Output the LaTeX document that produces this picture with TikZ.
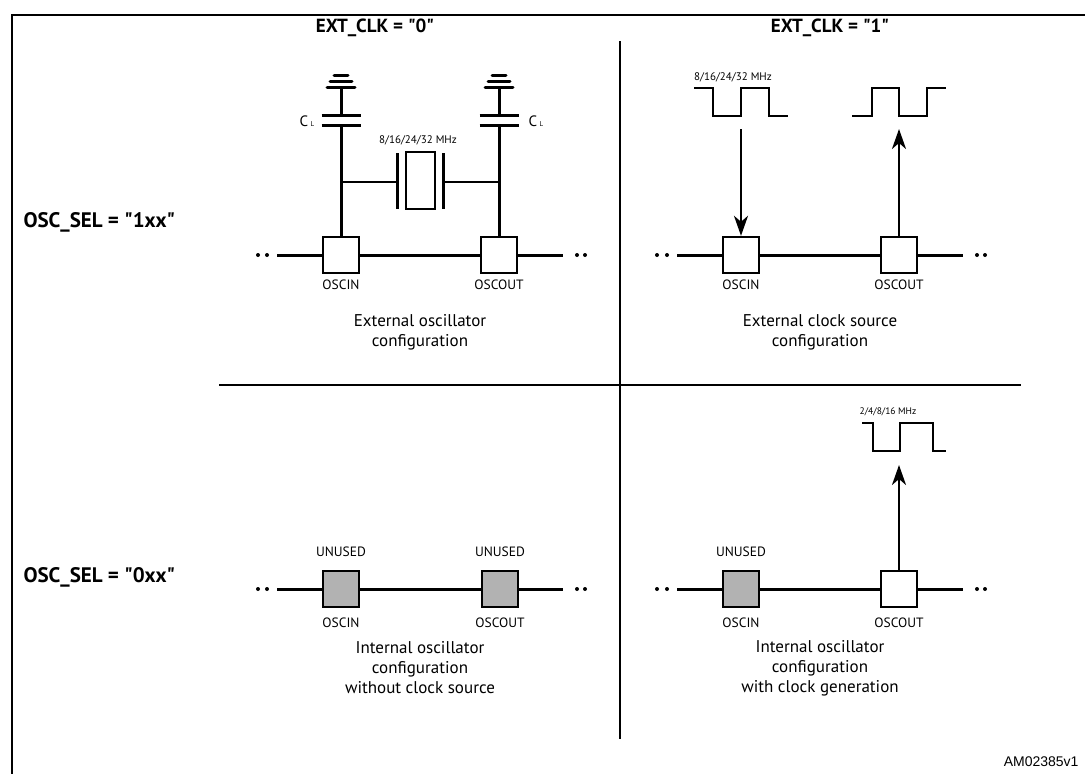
\documentclass[tikz,border=0pt]{standalone}
\usepackage{fontspec}
\setmainfont{PT Sans}
\newfontfamily\hdrfont{PT Sans}[Ligatures=TeXOff]
\newfontfamily\amfont{Liberation Sans}
\usetikzlibrary{arrows.meta}
\begin{document}
\begin{tikzpicture}[x=1pt,y=-1pt,
  pin/.style={draw,line width=2.4pt,minimum size=36pt,inner sep=0pt,fill=white},
  unusedpin/.style={pin,fill=black!30},
  wire/.style={line width=3pt},
  thinwire/.style={line width=2.2pt},
  gnd/.style={line width=3pt,line cap=round},
  busdot/.style={circle,fill,inner sep=0pt,minimum size=4pt},
  pinlbl/.style={font=\fontsize{13.5}{15}\selectfont},
  captxt/.style={font=\fontsize{17}{20}\selectfont,align=center},
  hdr/.style={font=\hdrfont\fontsize{19}{22}\selectfont\bfseries},
  selhdr/.style={font=\hdrfont\fontsize{21}{24}\selectfont\bfseries},
  freq/.style={font=\fontsize{11}{13}\selectfont},
  wave/.style={line width=2.4pt},
  arr/.style={line width=2.4pt,-{Stealth[length=20pt,width=14pt,inset=6pt]}}
]
\useasboundingbox (0,0) rectangle (1085,774);
% frame and dividers
\draw[line width=2.5pt] (12,774) -- (12,15) -- (1085,15);
\draw[line width=2pt] (620,41) -- (620,739);
\draw[line width=2pt] (219,385) -- (1021,385);
% headers
\node[hdr] (h0) at (375,28) {EXT\_CLK = "0"};
\node[hdr] (h1) at (830,28) {EXT\_CLK = "1"};
\node[selhdr,anchor=west] (s1) at (20,222) {OSC\_SEL = "1xx"};
\node[selhdr,anchor=west] (s0) at (20,577) {OSC\_SEL = "0xx"};
\node[font=\amfont\fontsize{14}{16}\selectfont,anchor=east] (am) at (1082,762) {AM02385v1};

% ===== top-left: external oscillator =====
\node[pin] (tlin) at (341,255) {};
\node[pin] (tlout) at (499,255) {};
\node[pinlbl] (tlinl) at (341,285) {OSCIN};
\node[pinlbl] (tloutl) at (499,285) {OSCOUT};
\coordinate (tlL) at (277,255); \coordinate (tlR) at (563,255);
\node[busdot] (tld1) at (258,255) {}; \node[busdot] (tld2) at (267,255) {};
\node[busdot] (tld3) at (577,255) {}; \node[busdot] (tld4) at (585,255) {};
\draw[wire] (tlL) -- (tlin.west) (tlin.east) -- (tlout.west) (tlout.east) -- (tlR);
% capacitors and grounds
\foreach \cx in {341,499} {
  \draw[wire] (\cx,236) -- (\cx,125);
  \draw[wire] (\cx-19.5,125) -- (\cx+19.5,125) (\cx-19.5,115) -- (\cx+19.5,115);
  \draw[wire] (\cx,115) -- (\cx,87);
  \draw[gnd] (\cx-14,87) -- (\cx+14,87) (\cx-11,81) -- (\cx+11,81) (\cx-7,75) -- (\cx+7,75);
}
\node[font=\fontsize{15}{16}\selectfont] (cl1) at (307,121) {C\,{\fontsize{7}{7}\selectfont L}};
\node[font=\fontsize{15}{16}\selectfont] (cl2) at (536,121) {C\,{\fontsize{7}{7}\selectfont L}};
% crystal
\draw[thinwire] (341,182) -- (397,182);
\draw[wire] (397,153) -- (397,209);
\draw[thinwire] (406,152) rectangle (435,209);
\draw[wire] (443,153) -- (443,209);
\draw[thinwire] (443,182) -- (499,182);
\node[freq] (f1) at (418,140) {8/16/24/32 MHz};
\node[captxt] (c1) at (420,332) {External oscillator\\configuration};

% ===== top-right: external clock source =====
\node[pin] (trin) at (741,255) {};
\node[pin] (trout) at (899,255) {};
\node[pinlbl] (trinl) at (741,285) {OSCIN};
\node[pinlbl] (troutl) at (899,285) {OSCOUT};
\coordinate (trL) at (677,255); \coordinate (trR) at (963,255);
\node[busdot] (trd1) at (657,255) {}; \node[busdot] (trd2) at (667,255) {};
\node[busdot] (trd3) at (977,255) {}; \node[busdot] (trd4) at (985,255) {};
\draw[wire] (trL) -- (trin.west) (trin.east) -- (trout.west) (trout.east) -- (trR);
\draw[wave] (694,88) -- (713,88) -- (713,116) -- (741,116) -- (741,88) -- (769,88) -- (769,116) -- (788,116);
\draw[wave] (852,116) -- (872,116) -- (872,88) -- (899,88) -- (899,116) -- (927,116) -- (927,88) -- (946,88);
\node[freq] (f2) at (733,77) {8/16/24/32 MHz};
\coordinate (trarrA) at (741,129);
\coordinate (trarrB) at (899,129);
\draw[arr] (trarrA) -- (trin.north);
\draw[arr] (trout.north) -- (trarrB);
\node[captxt] (c2) at (820,332) {External clock source\\configuration};

% ===== bottom-left: internal oscillator without clock source =====
\node[unusedpin] (blin) at (341,589) {};
\node[unusedpin] (blout) at (500,589) {};
\node[pinlbl] (blu1) at (341,552) {UNUSED};
\node[pinlbl] (blu2) at (500,552) {UNUSED};
\node[pinlbl] (blinl) at (341,623) {OSCIN};
\node[pinlbl] (bloutl) at (500,623) {OSCOUT};
\coordinate (blL) at (277,589); \coordinate (blR) at (563,589);
\node[busdot] (bld1) at (258,589) {}; \node[busdot] (bld2) at (267,589) {};
\node[busdot] (bld3) at (577,589) {}; \node[busdot] (bld4) at (585,589) {};
\draw[wire] (blL) -- (blin.west) (blin.east) -- (blout.west) (blout.east) -- (blR);
\node[captxt] (c3) at (420,668) {Internal oscillator\\configuration\\without clock source};

% ===== bottom-right: internal oscillator with clock generation =====
\node[unusedpin] (brin) at (741,589) {};
\node[pin] (brout) at (899,589) {};
\node[pinlbl] (bru1) at (741,552) {UNUSED};
\node[pinlbl] (brinl) at (741,623) {OSCIN};
\node[pinlbl] (broutl) at (899,623) {OSCOUT};
\coordinate (brL) at (677,589); \coordinate (brR) at (963,589);
\node[busdot] (brd1) at (657,589) {}; \node[busdot] (brd2) at (667,589) {};
\node[busdot] (brd3) at (977,589) {}; \node[busdot] (brd4) at (985,589) {};
\draw[wire] (brL) -- (brin.west) (brin.east) -- (brout.west) (brout.east) -- (brR);
\draw[wave] (862,423) -- (873,423) -- (873,451) -- (900,451) -- (900,423) -- (933,423) -- (933,451) -- (946,451);
\node[font=\fontsize{9.5}{11}\selectfont] (f3) at (888,412) {2/4/8/16 MHz};
\coordinate (brarr) at (899,465);
\draw[arr] (brout.north) -- (brarr);
\node[captxt] (c4) at (820,668) {Internal oscillator\\configuration\\with clock generation};
\end{tikzpicture}
\end{document}
